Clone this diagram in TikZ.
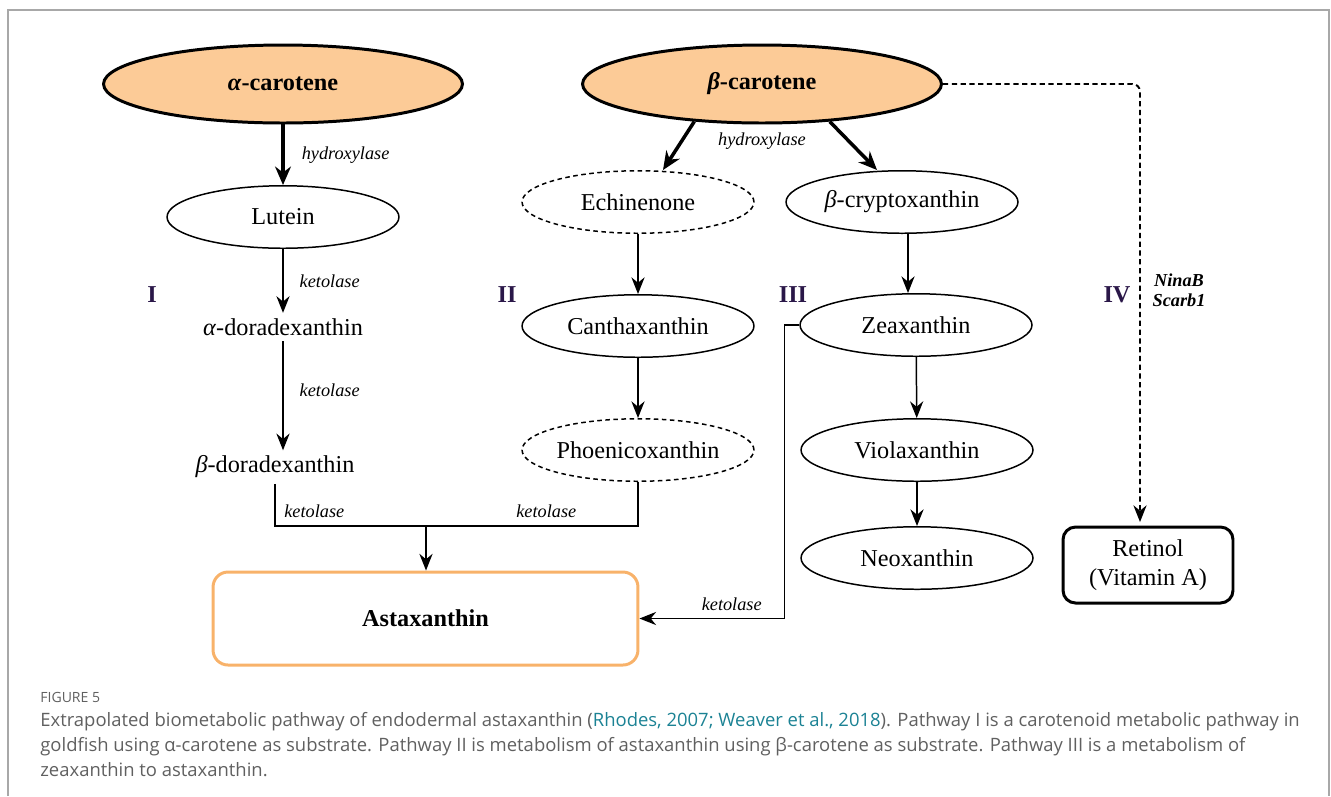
\documentclass[tikz,border=0pt]{standalone}
\usepackage{fontspec}
\setmainfont{Liberation Serif}
\newfontfamily\capfont{Open Sans}
\usepackage{xcolor}
\usetikzlibrary{arrows.meta,shapes.geometric,positioning}
\definecolor{peach}{HTML}{FCCB97}
\definecolor{astaorange}{HTML}{F8B26A}
\definecolor{romanpurple}{HTML}{2A1748}
\definecolor{capgray}{HTML}{606060}
\definecolor{linkteal}{HTML}{1B8294}
\definecolor{framegray}{HTML}{A8A8A8}

\begin{document}
\begin{tikzpicture}[x=0.02cm,y=-0.02cm,
        font=\fontsize{13.8}{16.5}\selectfont,
        sust/.style={ellipse,draw,line width=0.85pt,minimum width=4.64cm,minimum height=1.25cm,inner sep=0pt},
        incierto/.style={sust,dash pattern=on 2.6pt off 2pt},
        fuente/.style={ellipse,draw,line width=1.7pt,fill=peach,minimum width=7.18cm,minimum height=1.56cm,inner sep=0pt,font=\fontsize{13.8}{16.5}\selectfont\bfseries},
        paso/.style={-{Stealth[length=9.5pt,width=7.5pt]},line width=0.85pt},
        pasofuerte/.style={-{Stealth[length=10.5pt,width=9pt]},line width=2pt},
        enzima/.style={font=\fontsize{10.4}{11.5}\selectfont\itshape,inner sep=0pt},
        via/.style={font=\fontsize{13.8}{16.5}\selectfont\bfseries,text=romanpurple,inner sep=0pt}]
        \useasboundingbox (0,0) rectangle (1331,796);
        % Marco de la figura
        \draw[framegray,line width=1.1pt] (8,796) -- (8,10) -- (1329,10) -- (1329,796);
        % Sustratos
        \node[fuente] (alfa) at (283,84) {\textit{α}-carotene};
        \node[fuente] (beta) at (762,84) {\textit{β}-carotene};
        % Via I
        \node[sust] (luteina) at (283,217) {Lutein};
        \node[inner sep=3pt] (alfador) at (283,327) {\textit{α}-doradexanthin};
        \node[inner sep=3pt] (betador) at (275,467) {\textit{β}-doradexanthin};
        % Via II
        \node[incierto] (equin) at (638,202) {Echinenone};
        \node[sust] (cantax) at (638,326) {Canthaxanthin};
        \node[incierto] (fenic) at (638,450) {Phoenicoxanthin};
        % Via III
        \node[sust] (cripto) at (902,202) {\textit{β}-cryptoxanthin};
        \node[sust] (zeax) at (916,325) {Zeaxanthin};
        \node[sust] (violax) at (917,450) {Violaxanthin};
        \node[sust] (neox) at (917,558) {Neoxanthin};
        % Productos finales
        \node[draw=astaorange,line width=1.7pt,rounded corners=0.3cm,minimum width=8.5cm,minimum height=1.86cm,font=\fontsize{13.8}{16.5}\selectfont\bfseries] (astax) at (425.5,618.5) {Astaxanthin};
        \node[draw,line width=1.7pt,rounded corners=0.25cm,minimum width=3.4cm,minimum height=1.52cm,align=center] (retinol) at (1148,565) {Retinol\\(Vitamin A)};
        % Numeros de via
        \node[via] (vI) at (152,295) {I};
        \node[via] (vII) at (507,295) {II};
        \node[via] (vIII) at (793,295) {III};
        \node[via] (vIV) at (1117,295) {IV};
        \node[enzima,font=\fontsize{10.4}{11.5}\selectfont\bfseries\itshape,align=center] (genes) at (1179,290) {NinaB\\Scarb1};
        % Flechas de la via I
        \draw[pasofuerte] (alfa) -- (luteina) node[midway,right=0.34cm,enzima] (hidro1) {hydroxylase};
        \draw[paso] (luteina) -- (alfador) node[midway,right=0.32cm,enzima] (ceto1) {ketolase};
        \draw[paso] (alfador.south) -- (alfador.south |- betador.north) node[pos=0.45,right=0.32cm,enzima] (ceto2) {ketolase};
        % Flechas de la via II
        \draw[pasofuerte] (beta.209) -- ([xshift=0.5cm]equin.north);
        \draw[pasofuerte] (beta.331) -- ([xshift=-0.5cm]cripto.north);
        \node[enzima] (hidro2) at (762,141) {hydroxylase};
        \draw[paso] (equin) -- (cantax);
        \draw[paso] (cantax) -- (fenic);
        % Union hacia astaxantina
        \coordinate (union) at (426,526);
        \draw[line width=0.85pt] (betador.south) |- (union) -| (fenic.south);
        \draw[paso] (union) -- (union |- astax.north);
        \node[enzima,anchor=base west] (ceto3) at (284,517) {ketolase};
        \node[enzima,anchor=base west] (ceto4) at (516,517) {ketolase};
        % Flechas de la via III
        \coordinate (zcol) at (908,0);
        \draw[paso] (cripto.south -| zcol) -- (zeax.north -| zcol);
        \draw[paso] (zeax) -- (violax);
        \draw[paso] (violax) -- (neox);
        \draw[paso] (zeax.west) -- ++(-15,0) |- (astax.east);
        \node[enzima,anchor=base east] (ceto5) at (762,610) {ketolase};
        % Via IV (linea discontinua)
        \coordinate (col4) at (1140,0);
        \draw[-{Stealth[length=9.5pt,width=7.5pt]},line width=1.1pt,dash pattern=on 3pt off 2pt,rounded corners=0.15cm,shorten >=2pt] (beta.east) -| (col4 |- retinol.north);
        % Pie de figura
        \node[anchor=base west,inner sep=0pt,text=capgray,font=\capfont\fontsize{8}{9}\selectfont] (fig) at (40,702) {FIGURE 5};
        \node[anchor=base west,inner sep=0pt,text=capgray,font=\capfont\fontsize{10.5}{12}\selectfont] (cap1) at (40,726) {Extrapolated biometabolic pathway of endodermal astaxanthin (\textcolor{linkteal}{Rhodes, 2007; Weaver et al., 2018}). Pathway I is a carotenoid metabolic pathway in};
        \node[anchor=base west,inner sep=0pt,text=capgray,font=\capfont\fontsize{10.5}{12}\selectfont] (cap2) at (40,751) {goldfish using α-carotene as substrate. Pathway II is metabolism of astaxanthin using β-carotene as substrate. Pathway III is a metabolism of};
        \node[anchor=base west,inner sep=0pt,text=capgray,font=\capfont\fontsize{10.5}{12}\selectfont] (cap3) at (40,776) {zeaxanthin to astaxanthin.};
\end{tikzpicture}
\end{document}
